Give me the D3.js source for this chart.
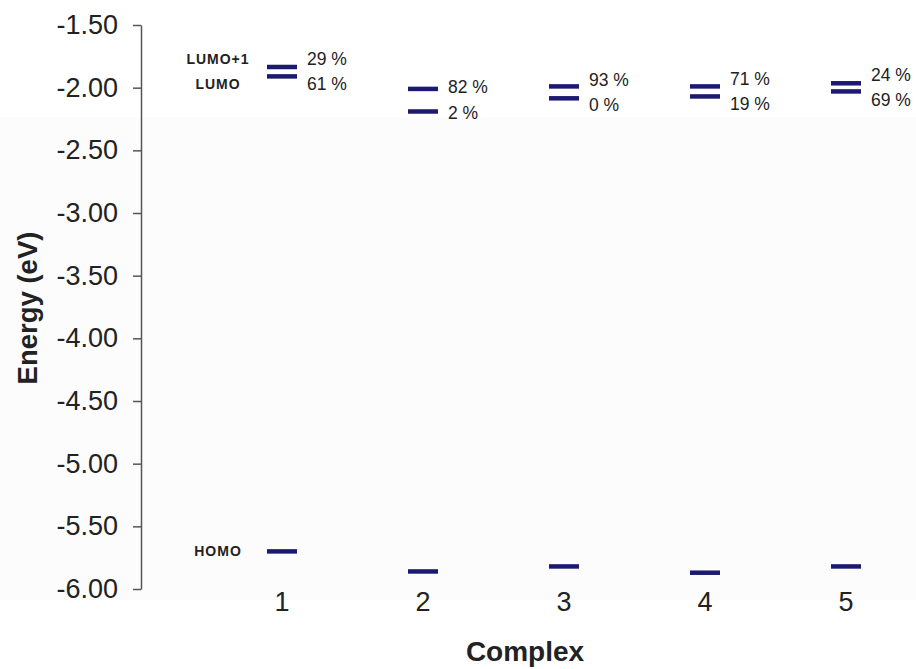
<!DOCTYPE html>
<html>
<head>
<meta charset="utf-8">
<script src="https://cdn.jsdelivr.net/npm/d3@7"></script>
<style>
  html, body { margin: 0; padding: 0; background: #ffffff; }
  svg { display: block; font-family: "Liberation Sans", Arial, sans-serif; }
</style>
</head>
<body>
<svg id="chart" width="916" height="669"></svg>
<script>
// ---- data ----
const complexes = [1, 2, 3, 4, 5];
const homo      = [-5.70, -5.86, -5.82, -5.87, -5.82];
const lumo      = [-1.91, -2.19, -2.085, -2.07, -2.03];
const lumoPlus1 = [-1.835, -2.01, -1.99, -1.99, -1.965];
const lumoPct      = [61, 2, 0, 19, 69];
const lumoPlus1Pct = [29, 82, 93, 71, 24];
const yTicks = [-1.5, -2.0, -2.5, -3.0, -3.5, -4.0, -4.5, -5.0, -5.5, -6.0];
const levelNames = ["LUMO+1", "LUMO", "HOMO"];

// ---- layout ----
const W = 916, H = 669;
const mLeft = 141, mTop = 25, mBottom = 589;
const barColor = "#1c1a70";
const textColor = "#222222";
const barW = 30, barH = 4.5;

const svg = d3.select("#chart");

// very subtle background band
svg.append("rect").attr("x", 0).attr("y", 117).attr("width", W).attr("height", 483)
  .attr("fill", "#fcfcfc");

const x = d3.scaleLinear().domain([0, 6]).range([mLeft, mLeft + 6 * 141]);
const y = d3.scaleLinear().domain([-1.5, -6.0]).range([mTop, mBottom]);

// y axis
const yAxis = d3.axisLeft(y).tickValues(yTicks).tickFormat(d => d3.format(".2f")(d).replace("−", "-"))
  .tickSizeInner(8).tickSizeOuter(0).tickPadding(15);
const gy = svg.append("g").attr("transform", `translate(${mLeft},0)`).call(yAxis);
gy.select(".domain").attr("stroke", "#555").attr("stroke-width", 1.5);
gy.selectAll(".tick line").attr("stroke", "#555").attr("stroke-width", 1.5);
gy.selectAll(".tick text").attr("fill", textColor).attr("font-size", 27)
  .attr("font-family", "'Liberation Sans', Arial, sans-serif");

// x category labels
svg.append("g").selectAll("text").data(complexes).join("text")
  .attr("x", d => x(d)).attr("y", 611)
  .attr("text-anchor", "middle").attr("font-size", 27).attr("fill", textColor)
  .text(d => d);

// axis titles
svg.append("text").attr("x", 525).attr("y", 661).attr("text-anchor", "middle")
  .attr("font-size", 28).attr("font-weight", "bold").attr("fill", textColor)
  .text("Complex");
svg.append("text").attr("transform", "translate(37,308) rotate(-90)")
  .attr("text-anchor", "middle").attr("font-size", 27.5).attr("font-weight", "bold")
  .attr("fill", textColor).text("Energy (eV)");

// level bars
const levels = [];
complexes.forEach((c, i) => {
  levels.push({ c, v: homo[i] });
  levels.push({ c, v: lumo[i] });
  levels.push({ c, v: lumoPlus1[i] });
});
svg.append("g").selectAll("rect").data(levels).join("rect")
  .attr("x", d => x(d.c) - barW / 2)
  .attr("y", d => y(d.v) - barH / 2)
  .attr("width", barW).attr("height", barH)
  .attr("fill", barColor);

// percentage labels
const labels = [];
complexes.forEach((c, i) => {
  const yt = y(lumoPlus1[i]), yb = y(lumo[i]);
  const mid = (yt + yb) / 2;
  const half = Math.max(12.75, (yb - yt) / 2 + 2);
  labels.push({ c, yc: mid - half, t: lumoPlus1Pct[i] + " %" });
  labels.push({ c, yc: mid + half, t: lumoPct[i] + " %" });
});
svg.append("g").selectAll("text").data(labels).join("text")
  .attr("x", d => x(d.c) + 25)
  .attr("y", d => d.yc + 6)
  .attr("font-size", 17.5).attr("fill", textColor)
  .text(d => d.t);

// level names (next to complex 1)
const nameY = [labels[0].yc, labels[1].yc, y(homo[0])];
svg.append("g").selectAll("text").data(levelNames).join("text")
  .attr("x", x(1) - 64)
  .attr("y", (d, i) => nameY[i] + 5)
  .attr("text-anchor", "middle")
  .attr("font-size", 14).attr("font-weight", "bold").attr("letter-spacing", 1)
  .attr("fill", textColor)
  .text(d => d);
</script>
</body>
</html>
